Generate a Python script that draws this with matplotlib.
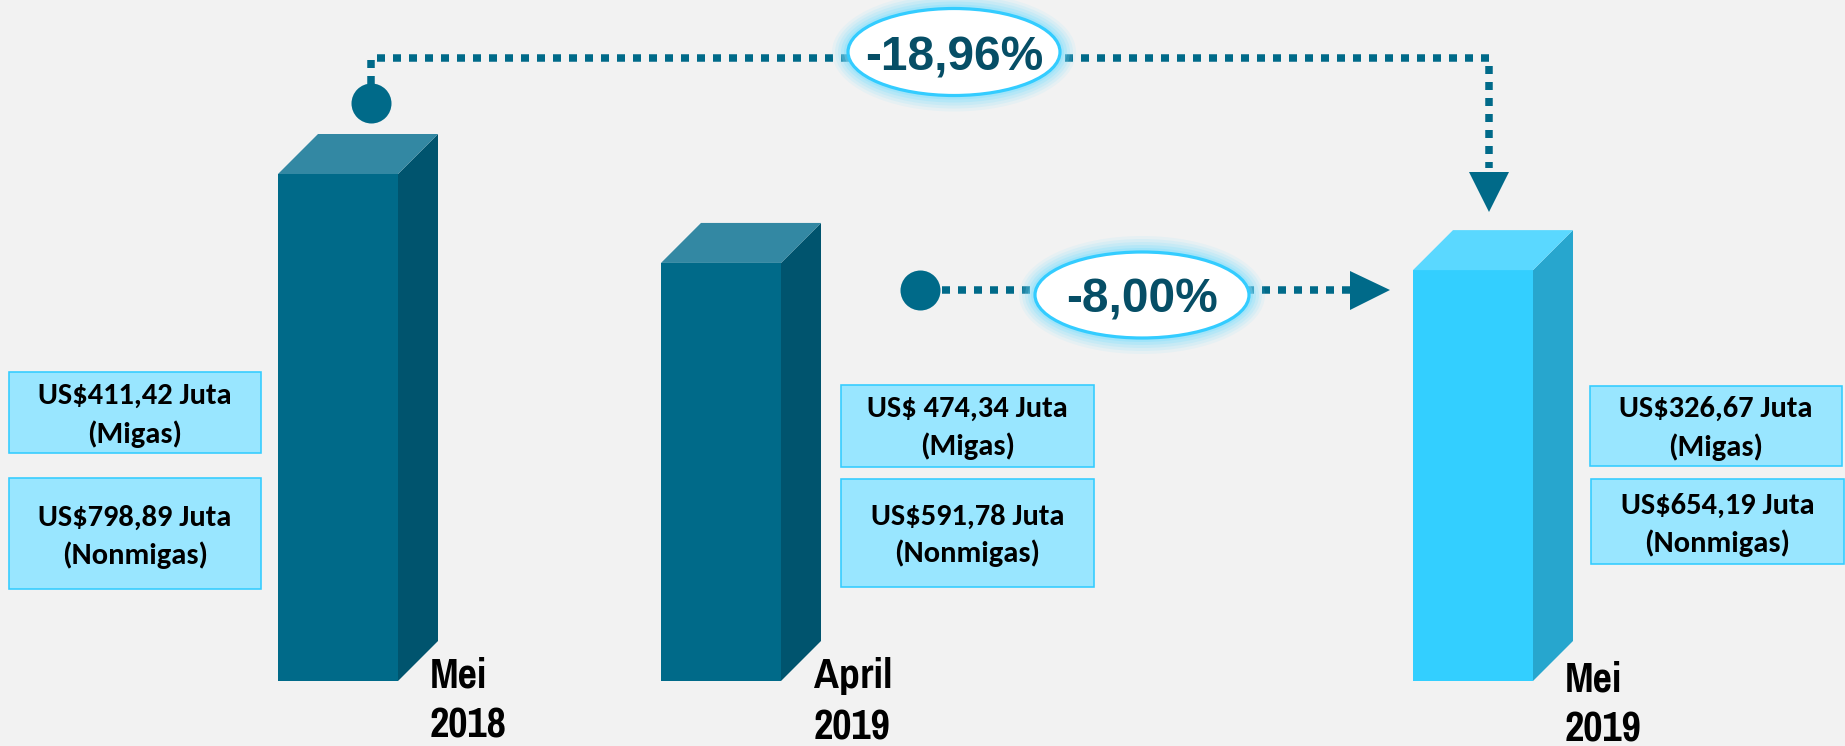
import matplotlib
matplotlib.use("Agg")
import matplotlib.pyplot as plt
from matplotlib.patches import Polygon, Ellipse, Rectangle
from matplotlib import font_manager as fm

# ---------------- data ----------------
periods = ["Mei", "April", "Mei"]
years = ["2018", "2019", "2019"]
migas = [411.42, 474.34, 326.67]          # US$ juta
nonmigas = [798.89, 591.78, 654.19]       # US$ juta
currency_prefix = ["US$", "US$ ", "US$"]  # as written in the boxes (Migas line)
# drawn bar heights (bar 2 is drawn shorter than its total)
bar_heights = [1210.31, 998.0, 980.86]

totals = [m + n for m, n in zip(migas, nonmigas)]
pct_year = (totals[2] / totals[0] - 1) * 100
pct_month = (totals[2] / totals[1] - 1) * 100


def fmt_num(v):
    return f"{v:.2f}".replace(".", ",")


def fmt_pct(v):
    return f"{v:.2f}".replace(".", ",") + "%"


# ---------------- fonts ----------------
_fams = {f.name for f in fm.fontManager.ttflist}


def pick(*names):
    for n in names:
        if n in _fams:
            return n
    return "DejaVu Sans"


NARROW = pick("Liberation Sans Narrow", "Pragati Narrow", "PT Sans Narrow", "Roboto Condensed")
BOLD_SANS = pick("Liberation Sans", "Arimo", "DejaVu Sans")
BOX_FONT = pick("Carlito", "Lato", "DejaVu Sans")

# ---------------- layout / style ----------------
W, H, DPI = 1845, 746, 100
BG = "#F2F2F2"
BASE_PX = 681
TOP1_PX = 174
bar_centers = [338, 721, 1473]
bar_w = 120
depth = 40
front_cols = ["#006A89", "#006A89", "#33CFFF"]
top_cols = ["#3388A3", "#3388A3", "#5AD8FF"]
side_cols = ["#00546E", "#00546E", "#27A6CE"]
DOT = "#006A89"
TXT_DARK = "#064E66"

fig = plt.figure(figsize=(W / DPI, H / DPI), dpi=DPI, facecolor=BG)

# main axes: x in pixel-like units, y in value units
k = bar_heights[0] / (BASE_PX - TOP1_PX)
ax = fig.add_axes([0, 0, 1, 1])
ax.set_xlim(0, W)
ax.set_ylim(-(H - BASE_PX) * k, BASE_PX * k)
ax.axis("off")
ax.set_facecolor("none")

ax.bar(bar_centers, bar_heights, width=bar_w, color=front_cols, linewidth=0, zorder=2)
dy = depth * k
for xc, h, tc, sc in zip(bar_centers, bar_heights, top_cols, side_cols):
    xl, xr = xc - bar_w / 2, xc + bar_w / 2
    ax.add_patch(Polygon([(xr, 0), (xr + depth, dy), (xr + depth, h + dy), (xr, h)],
                         closed=True, facecolor=sc, edgecolor="none", zorder=2))
    ax.add_patch(Polygon([(xl, h), (xr, h), (xr + depth, h + dy), (xl + depth, h + dy)],
                         closed=True, facecolor=tc, edgecolor="none", zorder=2))

# overlay axes in pixel coordinates (origin top-left)
ov = fig.add_axes([0, 0, 1, 1], facecolor="none")
ov.set_xlim(0, W)
ov.set_ylim(H, 0)
ov.axis("off")

# ---- dotted connectors ----
lw_px = 7.5
lw_pt = lw_px * 72 / DPI
dash = (8 / lw_px, 8 / lw_px)
ov.plot([371, 371, 1489, 1489], [84, 58, 58, 168], color=DOT, lw=lw_pt,
        dashes=dash, dash_capstyle="butt", solid_joinstyle="miter", zorder=3)
ov.add_patch(Polygon([(1469, 172), (1509, 172), (1489, 212)], closed=True,
                     facecolor=DOT, edgecolor="none", zorder=3))
ov.plot([942, 1350], [290, 290], color=DOT, lw=lw_pt, dashes=dash,
        dash_capstyle="butt", zorder=3)
ov.add_patch(Polygon([(1350, 271), (1350, 310), (1390, 290)], closed=True,
                     facecolor=DOT, edgecolor="none", zorder=3))
ov.plot([371, 920], [103, 290], linestyle="none", marker="o", ms=40 * 72 / DPI,
        color=DOT, mec="none", zorder=4)

# ---- percentage ellipses with glow ----
for (cx, cy, ew, eh, base), val in zip([(954, 52, 212, 87, 70), (1142, 295, 214, 86, 313)],
                                       [pct_year, pct_month]):
    for r, a in [(16, 0.10), (13, 0.14), (10, 0.18), (7, 0.25), (4, 0.35)]:
        ov.add_patch(Ellipse((cx, cy), ew + 2 * r, eh + 2 * r, facecolor="#7FDFFF",
                             edgecolor="none", alpha=a, zorder=5))
    ov.add_patch(Ellipse((cx, cy), ew, eh, facecolor="white", edgecolor="#33CCFF",
                         lw=3.2 * 72 / DPI, zorder=6))
    ov.text(cx, base, fmt_pct(val), ha="center", va="baseline", fontsize=34.5,
            fontweight="bold", family=BOLD_SANS, color=TXT_DARK, zorder=7)

# ---- value boxes ----
box_migas = [(9, 372, 252, 81), (841, 385, 253, 82), (1590, 386, 252, 80)]
box_non = [(9, 478, 252, 111), (841, 479, 253, 108), (1591, 479, 253, 85)]
migas_lines = [(404, 443), (417, 455), (417, 456)]
non_lines = [(526, 564), (525, 562), (514, 552)]
BOX_FILL = "#99E6FF"
BOX_EDGE = "#33CCFF"
for i in range(3):
    for (x0, y0, bw, bh), (l1, l2), line1, line2 in [
        (box_migas[i], migas_lines[i], f"{currency_prefix[i]}{fmt_num(migas[i])} Juta", "(Migas)"),
        (box_non[i], non_lines[i], f"US${fmt_num(nonmigas[i])} Juta", "(Nonmigas)"),
    ]:
        ov.add_patch(Rectangle((x0, y0), bw, bh, facecolor=BOX_FILL, edgecolor=BOX_EDGE,
                               lw=1.6 * 72 / DPI, zorder=3))
        cx = x0 + bw / 2
        ov.text(cx, l1, line1, ha="center", va="baseline", fontsize=22, fontweight="bold",
                family=BOX_FONT, color="black", zorder=4)
        ov.text(cx, l2, line2, ha="center", va="baseline", fontsize=22, fontweight="bold",
                family=BOX_FONT, color="black", zorder=4)

# ---- category labels ----
label_pos = [(430, 688, 738), (814, 688, 739), (1565, 691, 741)]
for (x, b1, b2), p, y in zip(label_pos, periods, years):
    ov.text(x, b1, p, ha="left", va="baseline", fontsize=33, fontweight="bold",
            family=NARROW, color="black", zorder=4)
    ov.text(x, b2, y, ha="left", va="baseline", fontsize=33, fontweight="bold",
            family=NARROW, color="black", zorder=4)

fig.savefig("out.png", dpi=DPI, facecolor=BG)
